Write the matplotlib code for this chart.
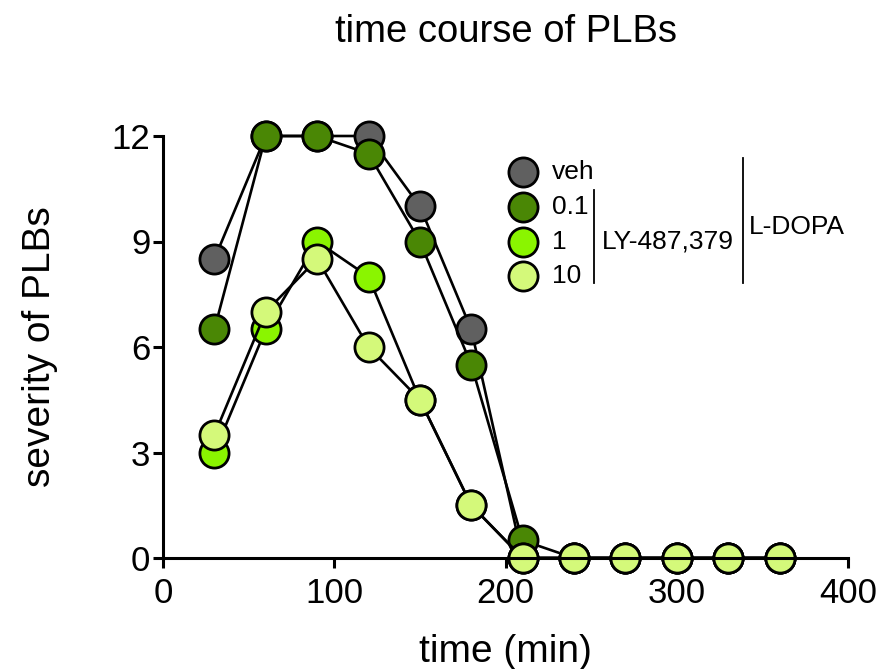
import matplotlib.pyplot as plt

plt.rcParams["font.family"] = ["Liberation Sans", "DejaVu Sans"]

time_min = [30, 60, 90, 120, 150, 180, 210, 240, 270, 300, 330, 360]
veh = [8.5, 12, 12, 12, 10, 6.5, 0, 0, 0, 0, 0, 0]
ly_01 = [6.5, 12, 12, 11.5, 9, 5.5, 0.5, 0, 0, 0, 0, 0]
ly_1 = [3, 6.5, 9, 8, 4.5, 1.5, 0, 0, 0, 0, 0, 0]
ly_10 = [3.5, 7, 8.5, 6, 4.5, 1.5, 0, 0, 0, 0, 0, 0]

labels = ["veh", "0.1", "1", "10"]
colors = ["#606060", "#4a8705", "#8af500", "#d4f97a"]
series = [veh, ly_01, ly_1, ly_10]

fig = plt.figure(figsize=(8.86, 6.69), dpi=100)
ax = fig.add_axes([163 / 886, 1 - 558 / 669, 685 / 886, 422 / 669])

for vals, col in zip(series, colors):
    ax.plot(time_min, vals, "-o", color="black", lw=1.9, ms=21,
            mfc=col, mec="black", mew=2.0, clip_on=False)

ax.set_xlim(0, 400)
ax.set_ylim(0, 12)
ax.set_xticks([0, 100, 200, 300, 400])
ax.set_yticks([0, 3, 6, 9, 12])
for side in ("top", "right"):
    ax.spines[side].set_visible(False)
for side in ("left", "bottom"):
    ax.spines[side].set_linewidth(2.2)
ax.tick_params(direction="out", length=7, width=2.2, labelsize=25)
ax.tick_params(axis="x", pad=7)
ax.tick_params(axis="y", pad=2)

ax.set_title("time course of PLBs", fontsize=27.5, pad=68)
ax.set_xlabel("time (min)", fontsize=28, labelpad=17)
ax.set_ylabel("severity of PLBs", fontsize=28, labelpad=39)

# legend drawn by hand, with brackets
leg_y = [0.915, 0.832, 0.749, 0.668]
for y, lab, col in zip(leg_y, labels, colors):
    ax.plot(0.5255, y, "o", transform=ax.transAxes, ms=21, mfc=col,
            mec="black", mew=2.0, clip_on=False)
    ax.text(0.568, y, lab, transform=ax.transAxes, fontsize=19,
            va="center", ha="left")
ax.plot([0.629, 0.629], [0.872, 0.652], color="black", lw=1.3,
        transform=ax.transAxes, clip_on=False)
ax.text(0.641, 0.749, "LY-487,379", transform=ax.transAxes, fontsize=19,
        va="center", ha="left")
ax.plot([0.847, 0.847], [0.948, 0.652], color="black", lw=1.3,
        transform=ax.transAxes, clip_on=False)
ax.text(0.855, 0.784, "L-DOPA", transform=ax.transAxes, fontsize=19,
        va="center", ha="left")

fig.savefig("out.png", dpi=100)
